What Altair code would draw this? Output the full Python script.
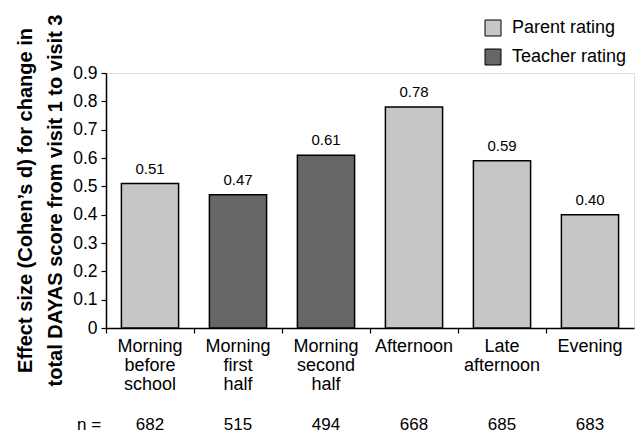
import altair as alt
import pandas as pd

categories = ["Morning\nbefore\nschool", "Morning\nfirst\nhalf", "Morning\nsecond\nhalf",
              "Afternoon", "Late\nafternoon", "Evening"]
effect = [0.51, 0.47, 0.61, 0.78, 0.59, 0.40]
rater = ["Parent rating", "Teacher rating", "Teacher rating",
         "Parent rating", "Parent rating", "Parent rating"]
n_values = [682, 515, 494, 668, 685, 683]
y_ticks = [0, 0.1, 0.2, 0.3, 0.4, 0.5, 0.6, 0.7, 0.8, 0.9]
legend_order = ["Parent rating", "Teacher rating"]
colors = ["#c6c6c6", "#666666"]

df = pd.DataFrame({"cat": categories, "d": effect, "rater": rater, "n": n_values})

FONT = "Liberation Sans"

x_axis = alt.Axis(title=None, labelAngle=0, labelExpr="split(datum.label, '\\n')",
                  labelFontSize=18, labelLineHeight=19, labelBaseline="top",
                  labelPadding=4, bandPosition=0, tickSize=5, tickColor="black",
                  domainColor="black", domainWidth=1.5, tickWidth=1.2,
                  labelColor="black", labelFont=FONT)
x_scale = alt.Scale(paddingInner=0, paddingOuter=0)

y_axis = alt.Axis(values=y_ticks, grid=False, tickSize=5, tickColor="black",
                  domainColor="black", domainWidth=1.5, tickWidth=1.2,
                  labelExpr="datum.value == 0 ? '0' : format(datum.value, '.1f')",
                  labelFontSize=17.5, labelColor="black", labelFont=FONT, labelPadding=4,
                  labelOverlap=False,
                  title=["Effect size (Cohen\u2019s d) for change in",
                         "total DAYAS score from visit 1 to visit 3"],
                  titleFontSize=20, titleFontWeight="bold", titleFont=FONT,
                  titleColor="black", titleLineHeight=30, titleAngle=-90,
                  titleBaseline="bottom", titleX=-71, titleY=127, titleAlign="center")
y_scale = alt.Scale(domain=[0, 0.9], nice=False)

bars = alt.Chart(df).mark_bar(width=alt.RelativeBandSize(0.65), stroke="black", strokeWidth=1.5).encode(
    x=alt.X("cat:N", sort=categories, scale=x_scale, axis=x_axis),
    y=alt.Y("d:Q", scale=y_scale, axis=y_axis),
    fill=alt.Fill("rater:N", scale=alt.Scale(domain=legend_order, range=colors),
                  legend=alt.Legend(title=None, orient="none", legendX=378, legendY=-54,
                                    symbolType="square", symbolSize=256,
                                    symbolStrokeColor="black", symbolStrokeWidth=1,
                                    labelFontSize=18, labelFont=FONT, labelColor="black",
                                    labelOffset=10, rowPadding=9)),
)

labels = alt.Chart(df).mark_text(dy=-10, baseline="alphabetic", fontSize=15, font=FONT,
                                 color="black").encode(
    x=alt.X("cat:N", sort=categories, scale=x_scale, axis=x_axis),
    y=alt.Y("d:Q", scale=y_scale, axis=y_axis),
    text=alt.Text("d:Q", format=".2f"),
)

nrow = alt.Chart(df).mark_text(baseline="middle", fontSize=17, font=FONT, color="black").encode(
    x=alt.X("cat:N", sort=categories, scale=x_scale, axis=x_axis),
    y=alt.value(352),
    text="n:Q",
)

nlabel = alt.Chart(pd.DataFrame({"t": ["n ="]})).mark_text(
    align="left", baseline="middle", fontSize=17, font=FONT, color="black").encode(
    x=alt.value(-29), y=alt.value(352), text="t:N")

chart = alt.layer(bars, labels, nrow, nlabel).properties(
    width=528, height=255,
    autosize=alt.AutoSizeParams(type="none"),
    padding={"left": 106, "top": 73, "right": 7, "bottom": 105},
).configure_view(stroke=None).configure(background="white")

chart.save("out.html", embed_options={"renderer": "svg", "actions": False})
